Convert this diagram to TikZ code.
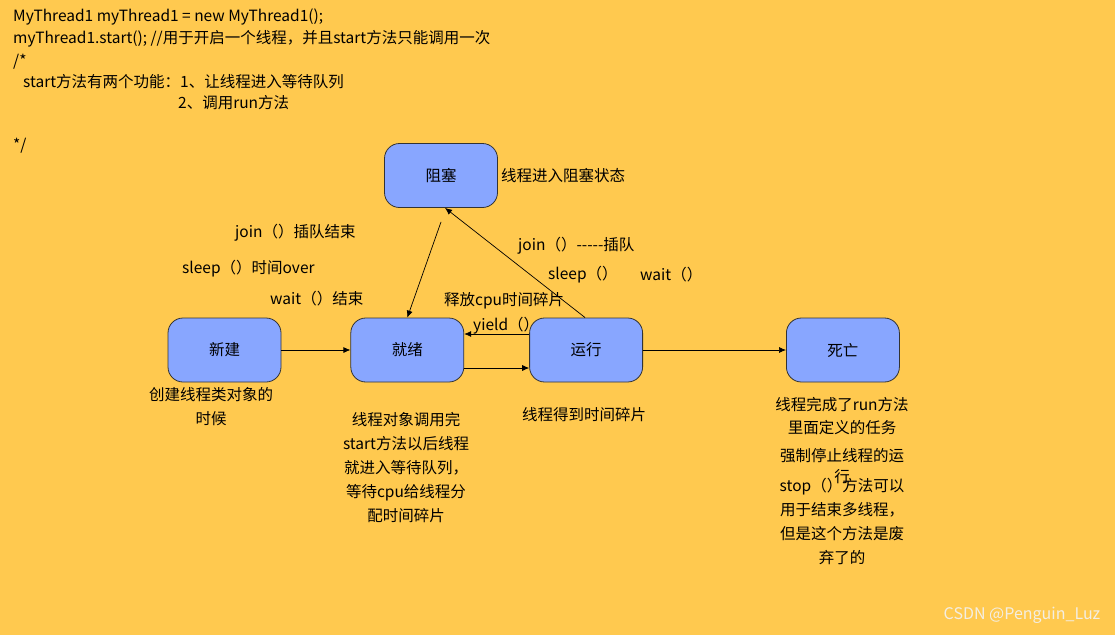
\documentclass[tikz,border=0pt]{standalone}
\usepackage{fontspec}
\setmainfont{Noto Sans CJK SC}
\usetikzlibrary{positioning, arrows.meta}
\definecolor{pagebg}{HTML}{FFC94F}
\definecolor{statefill}{HTML}{88A6FF}
\definecolor{stateline}{HTML}{333333}
\definecolor{markgray}{HTML}{F4EEE2}
\tikzset{
  state/.style={draw=stateline, fill=statefill, rounded corners=15pt,
                minimum width=113pt, minimum height=64pt, line width=0.8pt,
                font=\fontsize{15.5}{18}\selectfont},
  lbl/.style={inner sep=0pt, anchor=west, font=\fontsize{15.5}{18}\selectfont},
  desc/.style={inner sep=0pt, align=center, font=\fontsize{15.5}{24}\selectfont},
  arrow/.style={-{Latex[length=7pt,width=6pt]}, draw=black, line width=0.7pt},
}

\begin{document}
\begin{tikzpicture}[x=1pt, y=-1pt]

%% ====================  CANVAS  ====================

\fill[pagebg] (0,0) rectangle (1115,635);
\useasboundingbox (0,0) rectangle (1115,635);

%% ====================  CODE COMMENT  ====================

\node[lbl] (code1) at (13,17)  {MyThread1 myThread1 = new MyThread1();};
\node[lbl] (code2) at (13,39)  {myThread1.start(); //用于开启一个线程，并且start方法只能调用一次};
\node[lbl] (code3) at (13,62)  {/*};
\node[lbl] (code4) at (23,82)  {start方法有两个功能：1、让线程进入等待队列};
\node[lbl] (code5) at (178,103) {2、调用run方法};
\node[lbl] (code6) at (13,146) {*/};

%% ====================  EDGE LABELS  ====================

\node[lbl] (l_join)   at (235,233) {join（）插队结束};
\node[lbl] (l_sleep)  at (182,269) {sleep（）时间over};
\node[lbl] (l_wait)   at (270,299) {wait（）结束};
\node[lbl] (l_join2)  at (518,246) {join（）-{}-{}-{}-{}-插队};
\node[lbl] (l_sleep2) at (548,275) {sleep（）};
\node[lbl] (l_wait2)  at (640,275) {wait（）};
\node[lbl] (l_free)   at (444,301) {释放cpu时间碎片};
\node[lbl] (l_yield)  at (473,326) {yield（）};

%% ====================  STATES  ====================

\node[state] (xinjian) at (224.5,350) {新建};
\node[state, right=69pt of xinjian] (jiuxu) {就绪};
\node[state, right=65pt of jiuxu] (yunxing) {运行};
\node[state, right=143pt of yunxing] (siwang) {死亡};
\node[state] (zusai) at (441,175.5) {阻塞};

\node[lbl, right=3pt of zusai] (zusai_txt) {线程进入阻塞状态};

%% ====================  DESCRIPTIONS  ====================

\node[desc] (xinjian_txt) at (211,406.5) {创建线程类对象的\\时候};
\node[desc] (jiuxu_txt) at (406,468) {线程对象调用完\\start方法以后线程\\就进入等待队列，\\等待cpu给线程分\\配时间碎片};
\node[desc] (yunxing_txt) at (584,415) {线程得到时间碎片};
\node[desc, font=\fontsize{15.5}{23}\selectfont] (siwang_txt1) at (842,416.5) {线程完成了run方法\\里面定义的任务};
\node[desc, font=\fontsize{15.5}{21}\selectfont] (siwang_txt2) at (842,466.5) {强制停止线程的运\\行};
\node[desc] (siwang_txt3) at (842,521) {stop（）方法可以\\用于结束多线程，\\但是这个方法是废\\弃了的};

%% ====================  ARROWS  ====================

\draw[arrow] (xinjian) -- (jiuxu);
\draw[arrow] ([yshift=-18pt]jiuxu.east) -- ([yshift=-18pt]yunxing.west);
\draw[arrow] ([yshift=16pt]yunxing.west) -- ([yshift=16pt]jiuxu.east);
\draw[arrow] (yunxing) -- (siwang);
\draw[arrow] ([yshift=-14pt]zusai.south) -- (jiuxu.north);
\draw[arrow] ([xshift=-1pt]yunxing.north) -- ([xshift=4pt]zusai.south);

%% ====================  WATERMARK  ====================

\node[inner sep=0pt, text=markgray, font=\fontsize{16}{18}\selectfont] (mark) at (1022,615) {CSDN @Penguin\_Luz};

\end{tikzpicture}
\end{document}
